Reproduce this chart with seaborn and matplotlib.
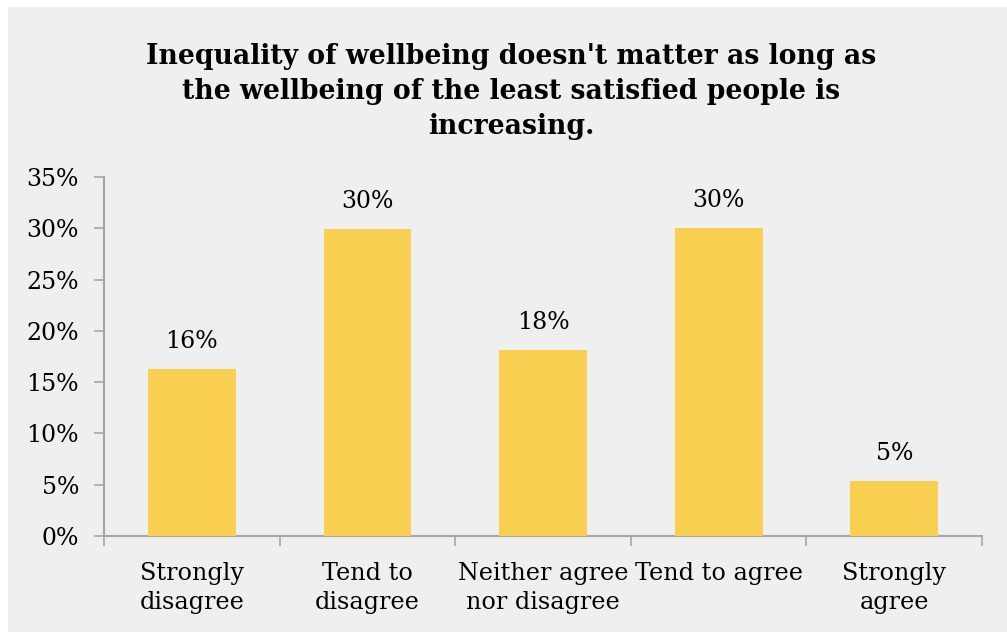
import matplotlib
matplotlib.use("Agg")
import matplotlib.pyplot as plt
import matplotlib.patches as mpatches
from matplotlib.ticker import FixedLocator, FuncFormatter
import seaborn as sns
import pandas as pd

# Survey responses (share of respondents)
categories = ["Strongly\ndisagree", "Tend to\ndisagree", "Neither agree\nnor disagree",
              "Tend to agree", "Strongly\nagree"]
shares = [0.163, 0.299, 0.181, 0.300, 0.054]
y_ticks = [0.0, 0.05, 0.10, 0.15, 0.20, 0.25, 0.30, 0.35]

title = ("Inequality of wellbeing doesn't matter as long as\n"
         "the wellbeing of the least satisfied people is\n"
         "increasing.")

BAR = "#F9CF52"
BG = "#EFEFEF"
AXIS = "#A6A6A6"
FONT = "DejaVu Serif"

sns.set_style("white")
plt.rcParams["font.family"] = [FONT]
plt.rcParams["text.color"] = "black"
plt.rcParams["xtick.color"] = "black"
plt.rcParams["ytick.color"] = "black"

df = pd.DataFrame({"response": categories, "share": shares})

fig = plt.figure(figsize=(10.07, 6.32), dpi=100)
fig.patch.set_facecolor("white")
fig.patches.append(mpatches.Rectangle((8 / 1007, 0), 1 - 8 / 1007, 1 - 7 / 632,
                                      transform=fig.transFigure, facecolor=BG,
                                      edgecolor="none", zorder=-10))

ax = fig.add_axes([104 / 1007, 1 - 536 / 632, (982 - 104) / 1007, (536 - 177) / 632])
ax.set_facecolor("none")
ax.set_zorder(5)

sns.barplot(data=df, x="response", y="share", color=BAR, saturation=1,
            width=0.5, linewidth=0, ax=ax, zorder=3)

ax.set_xlim(-0.5, len(categories) - 0.5)
ax.set_ylim(0, 0.35)
ax.set_xlabel("")
ax.set_ylabel("")

# boundary ticks on x, labels at the category centres
ax.xaxis.set_major_locator(FixedLocator([i - 0.5 for i in range(len(categories) + 1)]))
ax.xaxis.set_major_formatter(FuncFormatter(lambda v, p: ""))
ax.xaxis.set_minor_locator(FixedLocator(list(range(len(categories)))))
ax.set_xticklabels(categories, minor=True)
ax.tick_params(axis="x", which="major", length=7, width=1.2, color=AXIS, direction="out")
ax.tick_params(axis="x", which="minor", length=0, pad=19, labelsize=17.2)
for lbl in ax.get_xticklabels(minor=True):
    lbl.set_linespacing(1.32)
    lbl.set_horizontalalignment("center")

ax.set_yticks(y_ticks)
ax.yaxis.set_major_formatter(FuncFormatter(lambda v, p: f"{v * 100:.0f}%"))
ax.tick_params(axis="y", length=7, width=1.2, color=AXIS, direction="out",
               pad=11, labelsize=17)
ax.tick_params(left=True, bottom=True, which="major")

for s in ["top", "right"]:
    ax.spines[s].set_visible(False)
for s in ["left", "bottom"]:
    ax.spines[s].set_color(AXIS)
    ax.spines[s].set_linewidth(1.5)

# value labels above the bars
for container in ax.containers:
    ax.bar_label(container, labels=[f"{v * 100:.0f}%" for v in shares],
                 padding=11.5, fontsize=17, color="black")

fig.text(0.508, 1 - 43 / 632, title, ha="center", va="top", fontsize=19.2,
         fontweight="bold", linespacing=1.38, color="black")

fig.savefig("out.png", dpi=100)
